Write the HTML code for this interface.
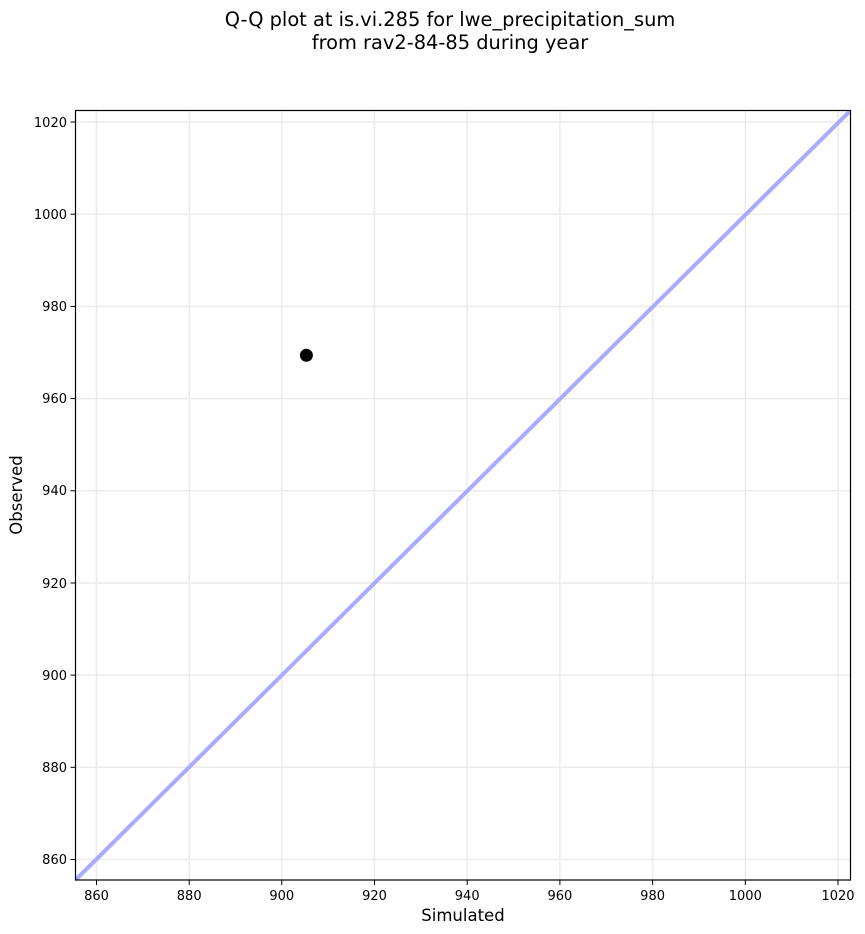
<!DOCTYPE html>
<html><head><style>body{margin:0;background:#fff}svg{display:block}</style></head><body>
<svg width="865" height="934" xmlns="http://www.w3.org/2000/svg" font-family="DejaVu Sans, Liberation Sans, sans-serif">
<rect width="865" height="934" fill="#fff"/>
<text x="450" y="26" font-size="19.4" text-anchor="middle">Q-Q plot at is.vi.285 for lwe_precipitation_sum</text>
<text x="450" y="49" font-size="19.4" text-anchor="middle">from rav2-84-85 during year</text>
<defs><clipPath id="c"><rect x="75.5" y="110.5" width="775" height="769.5"/></clipPath></defs>
<g stroke="#ebebeb" stroke-width="1.5">
<line x1="96.5" y1="110.5" x2="96.5" y2="880"/><line x1="189.2" y1="110.5" x2="189.2" y2="880"/><line x1="281.8" y1="110.5" x2="281.8" y2="880"/><line x1="374.5" y1="110.5" x2="374.5" y2="880"/><line x1="467.2" y1="110.5" x2="467.2" y2="880"/><line x1="559.9" y1="110.5" x2="559.9" y2="880"/><line x1="652.6" y1="110.5" x2="652.6" y2="880"/><line x1="745.3" y1="110.5" x2="745.3" y2="880"/><line x1="838" y1="110.5" x2="838" y2="880"/>
<line y1="859.5" x1="75.5" y2="859.5" x2="850.5"/><line y1="767.3" x1="75.5" y2="767.3" x2="850.5"/><line y1="675.1" x1="75.5" y2="675.1" x2="850.5"/><line y1="583" x1="75.5" y2="583" x2="850.5"/><line y1="490.8" x1="75.5" y2="490.8" x2="850.5"/><line y1="398.6" x1="75.5" y2="398.6" x2="850.5"/><line y1="306.4" x1="75.5" y2="306.4" x2="850.5"/><line y1="214.2" x1="75.5" y2="214.2" x2="850.5"/><line y1="122" x1="75.5" y2="122" x2="850.5"/>
</g>
<line x1="75.5" y1="880" x2="850.5" y2="110.5" stroke="#aaaaff" stroke-width="4" clip-path="url(#c)"/>
<circle cx="306.4" cy="355.3" r="6.5" fill="#000"/>
<rect x="75.5" y="110.5" width="775" height="769.5" fill="none" stroke="#000" stroke-width="1.2"/>
<g stroke="#000" stroke-width="1">
<line x1="96.5" y1="880" x2="96.5" y2="885"/><line x1="189.2" y1="880" x2="189.2" y2="885"/><line x1="281.8" y1="880" x2="281.8" y2="885"/><line x1="374.5" y1="880" x2="374.5" y2="885"/><line x1="467.2" y1="880" x2="467.2" y2="885"/><line x1="559.9" y1="880" x2="559.9" y2="885"/><line x1="652.6" y1="880" x2="652.6" y2="885"/><line x1="745.3" y1="880" x2="745.3" y2="885"/><line x1="838" y1="880" x2="838" y2="885"/>
<line x1="70.5" x2="75.5" y1="859.5" y2="859.5"/><line x1="70.5" x2="75.5" y1="767.3" y2="767.3"/><line x1="70.5" x2="75.5" y1="675.1" y2="675.1"/><line x1="70.5" x2="75.5" y1="583" y2="583"/><line x1="70.5" x2="75.5" y1="490.8" y2="490.8"/><line x1="70.5" x2="75.5" y1="398.6" y2="398.6"/><line x1="70.5" x2="75.5" y1="306.4" y2="306.4"/><line x1="70.5" x2="75.5" y1="214.2" y2="214.2"/><line x1="70.5" x2="75.5" y1="122" y2="122"/>
</g>
<g font-size="13" text-anchor="middle">
<text x="96.5" y="900">860</text><text x="189.2" y="900">880</text><text x="281.8" y="900">900</text><text x="374.5" y="900">920</text><text x="467.2" y="900">940</text><text x="559.9" y="900">960</text><text x="652.6" y="900">980</text><text x="745.3" y="900">1000</text><text x="838" y="900">1020</text>
</g>
<g font-size="13" text-anchor="end">
<text x="67" y="864">860</text><text x="67" y="772">880</text><text x="67" y="680">900</text><text x="67" y="588">920</text><text x="67" y="495">940</text><text x="67" y="403">960</text><text x="67" y="311">980</text><text x="67" y="219">1000</text><text x="67" y="127">1020</text>
</g>
<text x="463" y="921" font-size="16.5" text-anchor="middle">Simulated</text>
<text x="22" y="495" font-size="16.5" text-anchor="middle" transform="rotate(-90 22 495)">Observed</text>
</svg>
</body></html>
